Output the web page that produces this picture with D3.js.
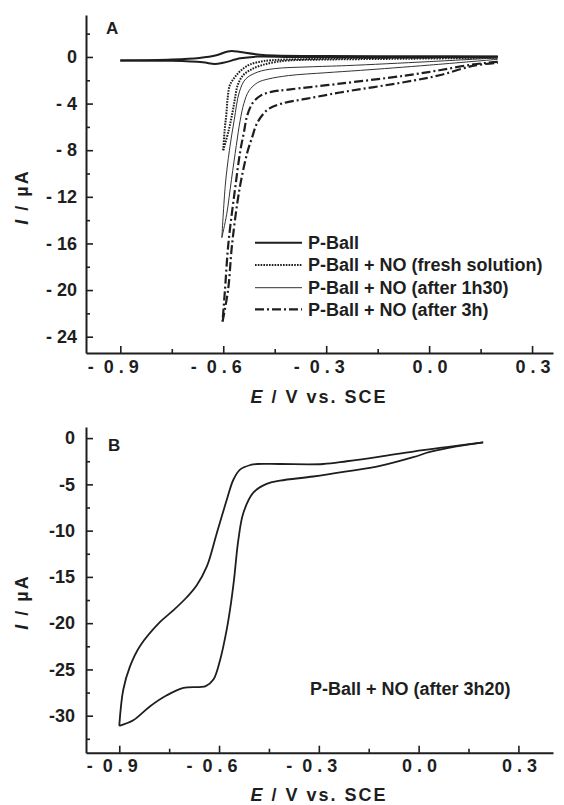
<!DOCTYPE html>
<html>
<head>
<meta charset="utf-8">
<script src="https://cdn.jsdelivr.net/npm/d3@7"></script>
<style>
  html, body { margin: 0; padding: 0; background: #fff; }
  svg { display: block; font-family: "Liberation Sans", Arial, sans-serif; font-weight: bold; }
  text { fill: #1e1e1e; }
</style>
</head>
<body>
<svg id="chart" width="564" height="805"></svg>
<script>
// ---------- tick values / labels ----------
const xMajor = [-0.9, -0.6, -0.3, 0.0, 0.3];
const xMinor = [-0.75, -0.45, -0.15, 0.15];
const yMajorA = [0, -4, -8, -12, -16, -20, -24];
const yMinorA = [2, -2, -6, -10, -14, -18, -22];
const yMajorB = [0, -5, -10, -15, -20, -25, -30];
const yMinorB = [-2.5, -7.5, -12.5, -17.5, -22.5, -27.5, -32.5];

// ---------- panel A series: [E (V), I (uA)] ----------
const pBallCath = [[0.2,0.02],[0.0,0.0],[-0.2,0.0],[-0.4,0.0],[-0.5,0.03],[-0.55,-0.12],[-0.6,-0.5],[-0.625,-0.6],[-0.66,-0.45],[-0.75,-0.33],[-0.9,-0.3]];
const pBallAnod = [[-0.9,-0.3],[-0.75,-0.22],[-0.67,-0.08],[-0.62,0.15],[-0.59,0.45],[-0.575,0.52],[-0.55,0.42],[-0.5,0.22],[-0.45,0.12],[-0.3,0.08],[0.0,0.06],[0.2,0.05]];

const freshCath = [[0.2,-0.03],[0.0,-0.06],[-0.2,-0.1],[-0.35,-0.18],[-0.46,-0.28],[-0.5,-0.45],[-0.527,-0.71],[-0.55,-1.2],[-0.568,-1.8],[-0.581,-2.43],[-0.587,-3.5],[-0.591,-4.9],[-0.596,-6.3],[-0.6,-8.0]];
const freshAnod = [[-0.6,-8.0],[-0.585,-6.4],[-0.574,-4.9],[-0.566,-3.6],[-0.558,-2.43],[-0.543,-1.6],[-0.52,-1.1],[-0.488,-0.71],[-0.45,-0.45],[-0.41,-0.3],[-0.3,-0.22],[-0.1,-0.16],[0.2,-0.08]];

const h130Cath = [[0.2,-0.08],[0.0,-0.4],[-0.24,-0.74],[-0.35,-0.85],[-0.45,-1.0],[-0.5,-1.3],[-0.535,-1.9],[-0.553,-3.0],[-0.568,-5.4],[-0.582,-8.0],[-0.594,-11.0],[-0.604,-15.5]];
const h130Anod = [[-0.604,-15.5],[-0.59,-13.5],[-0.576,-10.5],[-0.562,-7.6],[-0.551,-5.5],[-0.54,-4.0],[-0.525,-2.9],[-0.5,-2.2],[-0.47,-1.9],[-0.41,-1.6],[-0.3,-1.35],[-0.2,-1.15],[0.0,-0.7],[0.2,-0.2]];

const h3Cath = [[0.2,-0.43],[0.13,-0.63],[0.03,-1.14],[-0.07,-1.6],[-0.26,-2.29],[-0.41,-2.8],[-0.46,-3.0],[-0.49,-3.3],[-0.513,-3.9],[-0.53,-5.0],[-0.54,-6.5],[-0.55,-8.0],[-0.566,-11.4],[-0.585,-16.0],[-0.595,-20.0],[-0.602,-22.7]];
const h3Anod = [[-0.602,-22.7],[-0.586,-20.0],[-0.574,-16.0],[-0.553,-11.4],[-0.53,-8.2],[-0.517,-7.0],[-0.5,-5.6],[-0.47,-4.5],[-0.43,-4.0],[-0.36,-3.6],[-0.26,-3.05],[-0.07,-2.15],[0.03,-1.57],[0.13,-0.75],[0.2,-0.5]];

// ---------- panel B series ----------
const bCath = [[0.194,-0.47],[0.114,-0.9],[0.034,-1.5],[-0.016,-2.06],[-0.116,-3.0],[-0.216,-3.6],[-0.317,-4.15],[-0.417,-4.6],[-0.457,-4.95],[-0.497,-5.9],[-0.527,-8.1],[-0.542,-11.0],[-0.555,-15.3],[-0.564,-17.8],[-0.577,-20.7],[-0.597,-24.0],[-0.617,-26.1],[-0.64,-26.8],[-0.707,-27.0],[-0.757,-27.8],[-0.808,-29.0],[-0.858,-30.5],[-0.9,-31.1]];
const bAnod = [[-0.9,-31.1],[-0.888,-27.2],[-0.868,-24.7],[-0.838,-22.5],[-0.778,-19.9],[-0.737,-18.6],[-0.697,-17.2],[-0.667,-15.9],[-0.637,-13.9],[-0.607,-10.3],[-0.577,-6.7],[-0.557,-4.5],[-0.537,-3.4],[-0.505,-2.9],[-0.487,-2.8],[-0.417,-2.8],[-0.287,-2.8],[-0.216,-2.5],[-0.116,-2.0],[-0.016,-1.45],[0.084,-0.97],[0.194,-0.47]];

// ---------- legend ----------
const legendLabels = ["P-Ball", "P-Ball + NO (fresh solution)", "P-Ball + NO (after 1h30)", "P-Ball + NO (after 3h)"];
const styles = [
  {w: 2.0, dash: null, color: "#1e1e1e"},
  {w: 2.0, dash: "1.6,1.2", color: "#1e1e1e"},
  {w: 1.0, dash: null, color: "#333"},
  {w: 2.2, dash: "9,3,2,3", color: "#1e1e1e"}
];
const seriesA = [[pBallCath, pBallAnod], [freshCath, freshAnod], [h130Cath, h130Anod], [h3Cath, h3Anod]];

const svg = d3.select("#chart");
const ink = "#1e1e1e";

function fmtX(d) {
  const s = Math.abs(d).toFixed(1).split("").join(" ");
  return (d < 0 ? "-  " : "") + s;
}

function drawAxes(g, x, y, yMajor, yMinor, yFmt, yPad) {
  const xa = g.append("g").attr("transform", `translate(0,${y.range()[1]})`);
  xa.call(d3.axisBottom(x).tickValues(xMajor).tickSize(-7).tickSizeOuter(0).tickPadding(7).tickFormat(fmtX));
  xa.append("g").call(d3.axisBottom(x).tickValues(xMinor).tickSize(-4).tickSizeOuter(0).tickFormat(""))
    .select(".domain").remove();
  const ya = g.append("g").attr("transform", `translate(${x.range()[0]},0)`);
  ya.call(d3.axisLeft(y).tickValues(yMajor).tickSize(-7).tickSizeOuter(0).tickPadding(yPad).tickFormat(yFmt));
  ya.append("g").call(d3.axisLeft(y).tickValues(yMinor).tickSize(-4).tickSizeOuter(0).tickFormat(""))
    .select(".domain").remove();

  g.selectAll(".domain").attr("stroke", ink).attr("stroke-width", 2);
  g.selectAll(".tick line").attr("stroke", ink).attr("stroke-width", 1.6);
  g.selectAll(".tick text").attr("fill", ink).style("font-size", "18px").style("font-weight", "bold")
    .style("font-family", '"Liberation Sans", Arial, sans-serif').style("white-space", "pre");
  xa.selectAll(".tick text").attr("text-anchor", "end").attr("x", 18);
}

function axisTitles(xCenter, xBase, yCenter) {
  const t = svg.append("text").attr("x", xCenter).attr("y", xBase).attr("text-anchor", "middle")
    .style("font-size", "18px").style("letter-spacing", "2px");
  t.append("tspan").style("font-style", "italic").text("E");
  t.append("tspan").text(" / V vs. SCE");
  const yt = svg.append("text").attr("transform", `translate(28,${yCenter}) rotate(-90)`).attr("text-anchor", "middle")
    .style("font-size", "18px").style("letter-spacing", "2px");
  yt.append("tspan").style("font-style", "italic").text("I");
  yt.append("tspan").text(" / µA");
}

// ================= Panel A =================
const xA = d3.scaleLinear().domain([-1.0, 0.361]).range([86, 553]);
const yA = d3.scaleLinear().domain([3.6, -25.4]).range([15, 353]);
const gA = svg.append("g");
drawAxes(gA, xA, yA, yMajorA, yMinorA, d => d === 0 ? "0" : "- " + Math.abs(d), 9);

const lineA = d3.line().x(d => xA(d[0])).y(d => yA(d[1])).curve(d3.curveCatmullRom.alpha(0.5));
seriesA.forEach((branches, i) => {
  const st = styles[i];
  branches.forEach(b => {
    gA.append("path").attr("d", lineA(b)).attr("fill", "none")
      .attr("stroke", st.color).attr("stroke-width", st.w)
      .attr("stroke-dasharray", st.dash).attr("stroke-linejoin", "round");
  });
});

svg.append("text").attr("x", 106).attr("y", 34).style("font-size", "17px").text("A");

const legRowY = [242.7, 265, 287.7, 309.3];
legendLabels.forEach((lab, i) => {
  const st = styles[i];
  svg.append("line").attr("x1", 255).attr("x2", 302).attr("y1", legRowY[i]).attr("y2", legRowY[i])
    .attr("stroke", st.color).attr("stroke-width", st.w).attr("stroke-dasharray", st.dash);
  svg.append("text").attr("x", 308).attr("y", legRowY[i]).attr("dy", "0.36em")
    .style("font-size", "18px").text(lab);
});

axisTitles(319, 403, 197);

// ================= Panel B =================
const xB = d3.scaleLinear().domain([-1.0, 0.404]).range([86, 553]);
const yB = d3.scaleLinear().domain([1.2, -34.0]).range([427, 752.7]);
const gB = svg.append("g");
drawAxes(gB, xB, yB, yMajorB, yMinorB, d => d === 0 ? "0" : "-" + Math.abs(d), 11);

const lineB = d3.line().x(d => xB(d[0])).y(d => yB(d[1])).curve(d3.curveCatmullRom.alpha(0.5));
[bCath, bAnod].forEach(b => {
  gB.append("path").attr("d", lineB(b)).attr("fill", "none")
    .attr("stroke", ink).attr("stroke-width", 1.8).attr("stroke-linejoin", "round");
});

svg.append("text").attr("x", 108).attr("y", 451).style("font-size", "17px").text("B");
svg.append("text").attr("x", 310).attr("y", 695).style("font-size", "18px").text("P-Ball + NO (after 3h20)");

axisTitles(319, 801, 602);
</script>
</body>
</html>
